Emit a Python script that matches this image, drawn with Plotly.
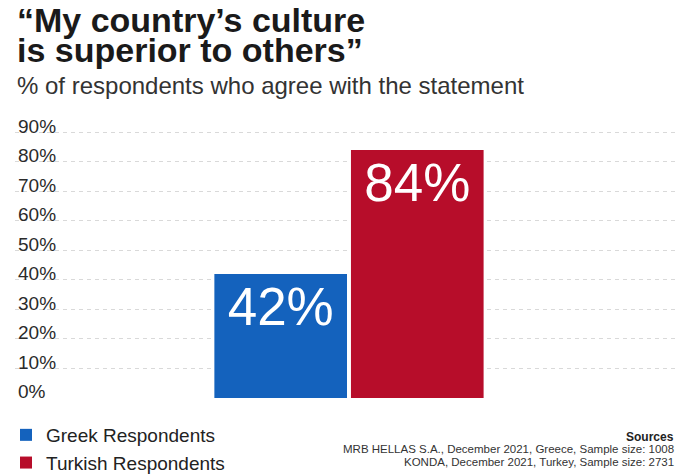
import plotly.graph_objects as go

categories = ["Greek Respondents", "Turkish Respondents"]
values = [42, 84]
bar_labels = ["42%", "84%"]
bar_colors = ["#1462bd", "#b70d2a"]
tick_vals = [0, 10, 20, 30, 40, 50, 60, 70, 80, 90]
tick_text = ["0%", "10%", "20%", "30%", "40%", "50%", "60%", "70%", "80%", "90%"]
title_lines = ["“My country’s culture", "is superior to others”"]
subtitle = "% of respondents who agree with the statement"
sources = ["MRB HELLAS S.A., December 2021, Greece, Sample size: 1008",
           "KONDA, December 2021, Turkey, Sample size: 2731"]

FONT = "Liberation Sans, Arial, Helvetica, sans-serif"

W, H = 678, 475
ML, MR, MT, MB = 15, 2, 105, 77
PH = H - MT - MB
YTOP = PH / 2.951


def py(p):
    """pixel y from top -> paper y"""
    return (H - MB - p) / PH


fig = go.Figure()
for cat, val, lab, col in zip(categories, values, bar_labels, bar_colors):
    fig.add_trace(go.Bar(
        x=[cat], y=[val], name=cat, text=[lab],
        marker=dict(color=col, line=dict(width=0)),
        width=0.971,
        textposition="inside", insidetextanchor="end", textangle=0,
        textfont=dict(family=FONT, size=53, color="white"),
        cliponaxis=False,
    ))

annotations = []
annotations.append(dict(text="<b>" + title_lines[0] + "</b>", x=0, xanchor="left", y=py(20), yanchor="middle",
                        xref="paper", yref="paper", showarrow=False,
                        font=dict(family=FONT, size=34, color="#1a1a1a")))
annotations.append(dict(text="<b>" + title_lines[1] + "</b>", x=0, xanchor="left", y=py(50), yanchor="middle",
                        xref="paper", yref="paper", showarrow=False,
                        font=dict(family=FONT, size=34, color="#1a1a1a")))
annotations.append(dict(text=subtitle, x=0, xanchor="left", y=py(86), yanchor="middle",
                        xref="paper", yref="paper", showarrow=False,
                        font=dict(family=FONT, size=24, color="#333333")))
annotations.append(dict(text="<b>Sources</b>", x=1, xanchor="right", y=py(437), yanchor="middle",
                        xref="paper", yref="paper", showarrow=False,
                        font=dict(family=FONT, size=12, color="#222222")))
annotations.append(dict(text=sources[0], x=1, xanchor="right", y=py(449), yanchor="middle",
                        xref="paper", yref="paper", showarrow=False,
                        font=dict(family=FONT, size=11.5, color="#333333")))
annotations.append(dict(text=sources[1], x=1, xanchor="right", y=py(462), yanchor="middle",
                        xref="paper", yref="paper", showarrow=False,
                        font=dict(family=FONT, size=11.5, color="#333333")))

fig.update_layout(
    width=W, height=H,
    margin=dict(l=ML, r=MR, t=MT, b=MB, pad=0, autoexpand=False),
    paper_bgcolor="white", plot_bgcolor="white",
    barmode="overlay",
    showlegend=True,
    legend=dict(
        x=6 / W, xref="container", xanchor="left",
        y=1 - 416 / H, yref="container", yanchor="top",
        font=dict(family=FONT, size=19, color="#222222"),
        bgcolor="rgba(0,0,0,0)", tracegroupgap=0,
    ),
    xaxis=dict(range=[-1.945, 2.894], visible=False, type="category",
               categoryorder="array", categoryarray=categories),
    yaxis=dict(
        range=[0, YTOP], tickvals=tick_vals, ticktext=tick_text,
        ticklabelposition="inside top", ticklabelshift=7, ticklabeloverflow="allow",
        ticks="",
        tickfont=dict(family=FONT, size=19, color="#2a2a2a"),
        showgrid=True, gridcolor="#d9d9d9", gridwidth=1, griddash="4px,4px",
        zeroline=True, zerolinecolor="white", zerolinewidth=1,
        showline=False, fixedrange=True,
    ),
    annotations=annotations,
)

fig.write_html("out.html")
